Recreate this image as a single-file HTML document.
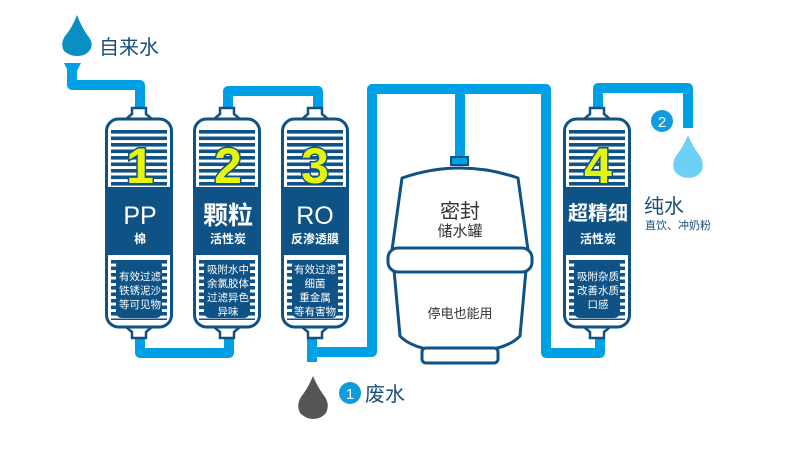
<!DOCTYPE html>
<html><head><meta charset="utf-8"><style>
body{margin:0;background:#fff;}
svg{display:block;font-family:"Liberation Sans","Noto Sans CJK SC",sans-serif;}
</style></head><body>
<svg width="790" height="459" viewBox="0 0 790 459" xmlns="http://www.w3.org/2000/svg">
<defs>
<pattern id="st" x="0" y="0" width="10" height="6.5" patternUnits="userSpaceOnUse">
<rect width="10" height="6.5" fill="#fff"/><rect y="0" width="10" height="3.6" fill="#0e5286"/>
</pattern>
<g id="cart">
<path d="M27 108 h14 v6 l6 5 h-26 l6 -5z" fill="#fff" stroke="#0e5286" stroke-width="2.5"/>
<path d="M27 338 h14 v-6 l6 -5 h-26 l6 5z" fill="#fff" stroke="#0e5286" stroke-width="2.5"/>
<rect x="1.5" y="119" width="65" height="208" rx="12" fill="#fff" stroke="#0e5286" stroke-width="3"/>
<rect x="6" y="128" width="56" height="58" fill="url(#st)"/>
<rect x="3" y="187" width="62" height="68" fill="#0e5286"/>
<rect x="6" y="258" width="56" height="62" fill="url(#st)"/>
<rect x="11" y="260" width="46" height="58" rx="6" fill="#0e5286"/>
</g>
</defs>

<g fill="none" stroke="#00a0e6" stroke-width="10" stroke-linejoin="round">
<path d="M72 68 V85 H140 V108"/>
<path d="M140 338 V353 H229 V338"/>
<path d="M228 108 V91 H318 V108"/>
<path d="M312 338 V362"/>
<path d="M315 352 H372 V89 H546 V353 H600 V338"/>
<path d="M460 89 V158"/>
<path d="M598 108 V88 H688 V128"/>
</g>
<path d="M64 63 h17 l-4 8 h-9z" fill="#00a0e6"/>

<use href="#cart" x="105"/>
<use href="#cart" x="193"/>
<use href="#cart" x="281"/>
<use href="#cart" x="563"/>

<g font-weight="bold" font-size="50" fill="#e6f50a" stroke="#0e5286" stroke-width="3" paint-order="stroke" text-anchor="middle">
<text x="140" y="183">1</text>
<text x="228" y="183">2</text>
<text x="315" y="183">3</text>
<text x="598" y="183">4</text>
</g>

<g fill="#fff" text-anchor="middle">
<text x="140" y="224" font-size="25">PP</text>
<text x="140" y="243" font-size="12" font-weight="bold">棉</text>
<text x="228" y="224" font-size="25" font-weight="bold">颗粒</text>
<text x="228" y="243" font-size="12" font-weight="bold">活性炭</text>
<text x="315" y="224" font-size="25">RO</text>
<text x="315" y="243" font-size="12" font-weight="bold">反渗透膜</text>
<text x="598" y="220" font-size="20" font-weight="bold">超精细</text>
<text x="598" y="243" font-size="12" font-weight="bold">活性炭</text>
<g font-size="10.5">
<text x="140" y="280">有效过滤</text><text x="140" y="294">铁锈泥沙</text><text x="140" y="308">等可见物</text>
<text x="228" y="273">吸附水中</text><text x="228" y="287">余氯胶体</text><text x="228" y="301">过滤异色</text><text x="228" y="315">异味</text>
<text x="315" y="273">有效过滤</text><text x="315" y="287">细菌</text><text x="315" y="301">重金属</text><text x="315" y="315">等有害物</text>
<text x="598" y="280">吸附杂质</text><text x="598" y="294">改善水质</text><text x="598" y="308">口感</text>
</g>
</g>

<rect x="451" y="157" width="17" height="8" fill="#00a0e6" stroke="#0e5286" stroke-width="2"/>
<path d="M402 178 Q460 158 518 178 L528 250 L392 250 Z" fill="#fff" stroke="#0e5286" stroke-width="3" stroke-linejoin="round"/>
<path d="M394 270 L526 270 L520 336 Q505 352 460 352 Q415 352 400 336 Z" fill="#fff" stroke="#0e5286" stroke-width="3" stroke-linejoin="round"/>
<rect x="422" y="348" width="76" height="15" rx="4" fill="#fff" stroke="#0e5286" stroke-width="3"/>
<rect x="388" y="248" width="144" height="24" rx="10" fill="#fff" stroke="#0e5286" stroke-width="3"/>
<g fill="#333" text-anchor="middle">
<text x="460" y="218" font-size="20">密封</text>
<text x="460" y="236" font-size="15">储水罐</text>
<text x="460" y="318" font-size="13">停电也能用</text>
</g>

<path d="M77 15 Q72 28 65 36 Q60 44 64 51 Q70 56 77 56 Q86 56 90 50 Q94 43 88 36 Q82 28 77 15z" fill="#0a8fc4"/>
<path d="M313 376 Q308 388 301 397 Q296 405 300 413 Q306 419 313 419 Q321 419 326 413 Q330 405 325 397 Q318 388 313 376z" fill="#555"/>
<path d="M688 135 Q683 147 676 156 Q671 164 675 172 Q681 178 688 178 Q696 178 701 172 Q705 164 700 156 Q693 147 688 135z" fill="#6dd0f5"/>

<circle cx="662" cy="121" r="11" fill="#0e9be0"/>
<text x="662" y="127" font-size="15" fill="#fff" text-anchor="middle">2</text>
<circle cx="350" cy="393" r="11" fill="#0e9be0"/>
<text x="350" y="399" font-size="15" fill="#fff" text-anchor="middle">1</text>

<g fill="#1a4f7a">
<text x="99" y="54" font-size="20">自来水</text>
<text x="365" y="401" font-size="20">废水</text>
<text x="644" y="213" font-size="20">纯水</text>
<text x="645" y="229" font-size="11">直饮、冲奶粉</text>
</g>
</svg>
</body></html>
